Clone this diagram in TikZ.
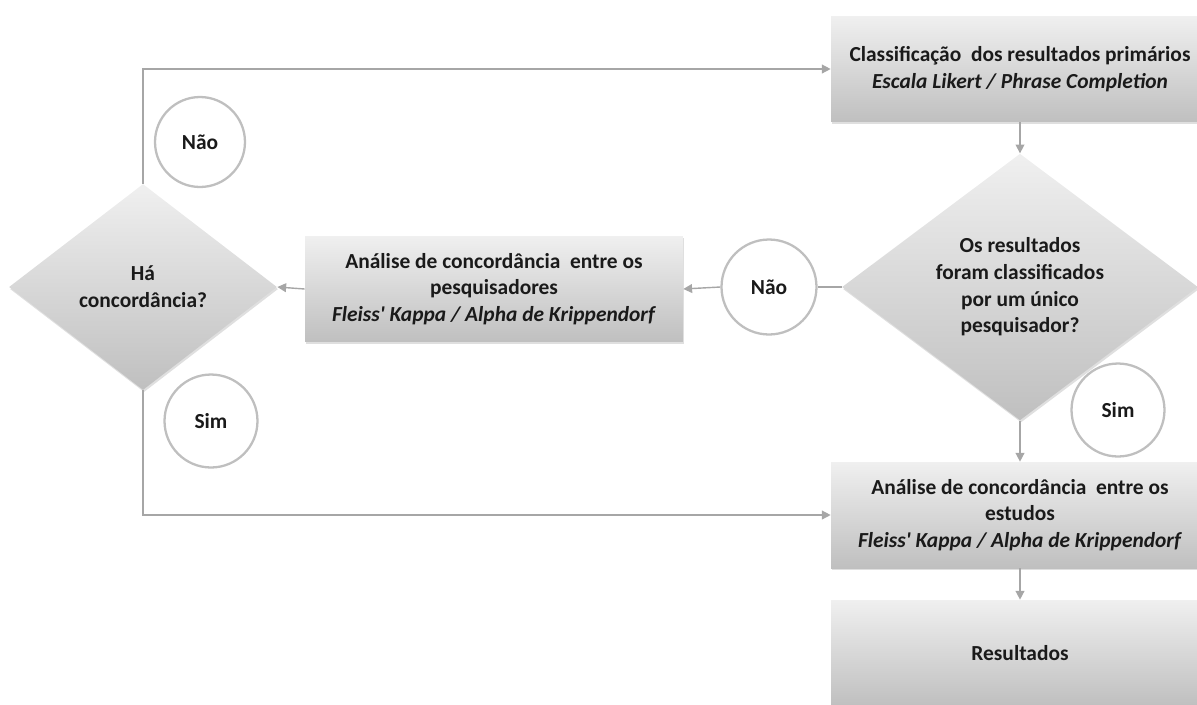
\documentclass[tikz,border=0pt]{standalone}
\usepackage{fontspec}
\setmainfont{Carlito}
\usetikzlibrary{shapes.geometric,shadows,arrows.meta}

\definecolor{linegray}{HTML}{A6A6A6}
\definecolor{ringgray}{HTML}{BFBFBF}
\definecolor{inkblack}{HTML}{1A1A1A}

\tikzset{
	shade box/.style={top color=gray!12, bottom color=gray!50, draw=none,
		drop shadow={shadow xshift=0.6pt, shadow yshift=-1.2pt, opacity=0.25},
		font=\fontsize{12.2}{15.2}\selectfont\bfseries, text=inkblack, align=center},
	stepbox/.style={shade box, rectangle, minimum width=7.56cm, minimum height=2.12cm, inner sep=0pt},
	choice/.style={shade box, diamond, inner sep=0pt},
	answer/.style={circle, draw=ringgray, line width=1.3pt, fill=white, inner sep=0pt,
		font=\fontsize{12.2}{15.2}\selectfont\bfseries, text=inkblack},
	flow/.style={draw=linegray, line width=0.8pt, -{Triangle[length=5pt,width=5pt]}},
}

\begin{document}
\begin{tikzpicture}[x=0.02cm, y=-0.02cm]
	\useasboundingbox (0,0) rectangle (1197,704);

	% right column
	\node[stepbox] (cls) at (1020,69) {Classificação~ dos resultados primários\\
		\textit{Escala Likert / Phrase Completion}};
	\node[choice, minimum width=7.12cm, minimum height=5.2cm] (single) at (1020,287)
		{Os resultados\\foram classificados\\por um único\\pesquisador?};
	\node[stepbox] (est) at (1020,515) {Análise de concordância~ entre os\\estudos\\
		\textit{Fleiss\textquotesingle\ Kappa / Alpha de Krippendorf}};
	\node[stepbox] (res) at (1020,653) {Resultados};

	% middle and left
	\node[stepbox] (pesq) at (494,289) {Análise de concordância~ entre os\\pesquisadores\\
		\textit{Fleiss\textquotesingle\ Kappa / Alpha de Krippendorf}};
	\node[choice, minimum width=5.36cm, minimum height=4.12cm] (agree) at (143,287)
		{Há\\concordância?};

	% answers
	\node[answer, minimum size=1.8cm] (nao1) at (200,142) {Não};
	\node[answer, minimum size=1.9cm] (nao2) at (769,287) {Não};
	\node[answer, minimum size=1.86cm] (sim1) at (211,421) {Sim};
	\node[answer, minimum size=1.86cm] (sim2) at (1118,410) {Sim};

	% connectors
	\draw[flow] (cls) -- (single);
	\draw[flow] (single) -- (est);
	\draw[flow] (est) -- (res);
	\draw[draw=linegray, line width=1.4pt] (single.west) -- (nao2.east);
	\draw[flow] (nao2.west) -- (pesq.east);
	\draw[flow] (pesq.west) -- (agree.east);
	\draw[flow] (agree.north) |- (cls.west);
	\draw[flow] (agree.south) |- (est.west);
\end{tikzpicture}
\end{document}
